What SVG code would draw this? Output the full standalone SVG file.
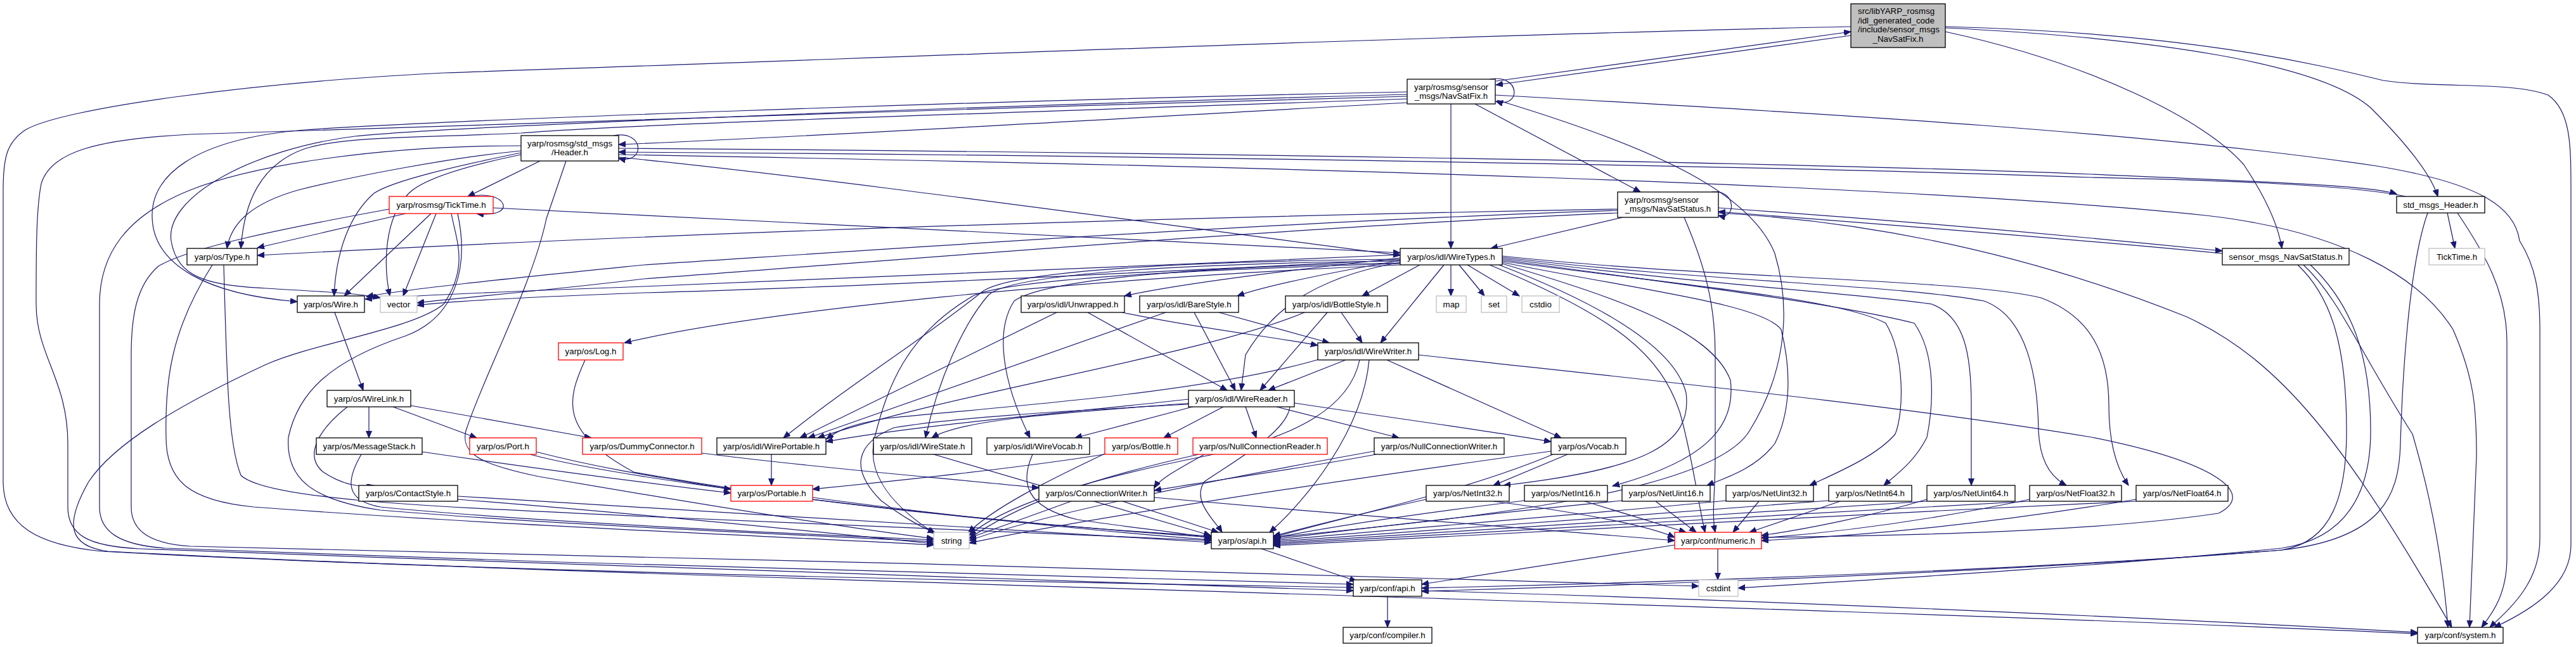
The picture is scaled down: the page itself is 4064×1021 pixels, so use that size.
<svg xmlns="http://www.w3.org/2000/svg" width="4064" height="1021" viewBox="0 0 4064 1021">
<style>
.n rect{fill:#fff;stroke:#000;stroke-width:1.3}
.n.red rect{stroke:#f00}
.n.ext rect{stroke:#bfbfbf}
#n_root rect{fill:#bfbfbf}
text{font-family:"Liberation Sans",Arial,Helvetica,sans-serif;font-size:13.33px;fill:#000}
.c{text-anchor:middle}
#edges path{fill:none;stroke:#191970;stroke-width:1.2;marker-end:url(#a)}
</style>
<defs>
<marker id="a" markerUnits="userSpaceOnUse" markerWidth="12" markerHeight="10" refX="11" refY="4.5" orient="auto"><path d="M0,0 L11,4.5 L0,9 z" fill="#191970" stroke="#191970" stroke-width="1"/></marker>
</defs>
<rect width="4064" height="1021" fill="#fff"/>
<g id="edges">
<path d="M2920,56 L2360,134"/>
<path d="M2360,128 L2920,50"/>
<path d="M2350,125 C2400,116 2400,172 2360,160"/>
<path d="M3069,42 C3450,52 3650,100 3760,127 C3850,140 3960,128 4020,150 C4056,175 4056,230 4056,300 L4056,860 C4056,920 4000,960 3935,990"/>
<path d="M3069,44 C3400,60 3660,100 3740,170 C3800,230 3835,275 3846,310"/>
<path d="M3069,50 C3300,100 3480,190 3540,260 C3580,320 3595,360 3600,392"/>
<path d="M2920,42 C2300,55 1300,95 700,115 C400,130 100,170 40,205 C10,225 5,250 5,300 L5,760 C5,830 60,860 160,870 C700,900 1600,918 2135,927"/>
<path d="M2289,164 L2289,392"/>
<path d="M2327,164 L2588,303"/>
<path d="M2359,150 C2900,180 3400,210 3750,262 C3920,290 3968,330 3975,380 C4000,420 4007,460 4007,520 L4007,850 C4007,920 3960,960 3928,990"/>
<path d="M2220,162 C1800,185 1300,215 976,228"/>
<path d="M2220,145 C1500,160 700,190 480,205 C300,220 240,280 240,340 C240,420 330,465 469,476"/>
<path d="M2220,149 C1500,168 700,200 560,215 C400,235 260,310 270,380 C280,440 330,450 420,455 C500,460 560,462 600,470"/>
<path d="M2220,152 C1500,172 600,200 300,212 C150,220 80,240 65,290 C57,330 57,400 57,480 C57,560 107,600 107,700 L107,800 C107,845 140,862 220,866 C900,892 1700,914 2135,932"/>
<path d="M2220,156 C1600,178 1000,195 822,210 C650,218 540,215 480,235 C410,260 385,320 380,392"/>
<path d="M2362,158 C2600,230 2760,300 2800,400 C2830,500 2810,600 2760,680 C2700,780 2300,820 2009,848"/>
<path d="M968,214 C1018,205 1018,260 976,250"/>
<path d="M976,234 C1800,240 2800,255 3300,275 C3600,288 3740,293 3781,306"/>
<path d="M3795,310 C3740,298 3600,286 3300,280 C2800,262 1800,245 976,240"/>
<path d="M976,248 C1300,280 1800,350 2209,403"/>
<path d="M976,244 C2000,262 3000,290 3480,340 C3700,365 3820,440 3870,520 C3905,600 3907,650 3907,720 L3896,990"/>
<path d="M852,254 L738,310"/>
<path d="M822,238 C700,250 550,280 470,300 C400,320 365,350 358,392"/>
<path d="M822,241 C720,262 620,285 590,305 C550,340 530,400 527,467"/>
<path d="M822,244 C720,265 665,285 645,305 C605,345 605,420 615,467"/>
<path d="M893,254 L862,345 C840,450 760,600 735,680 C725,720 770,735 850,752 C1100,795 1350,835 1473,850"/>
<path d="M742,310 C800,298 818,345 752,337"/>
<path d="M640,337 L406,391"/>
<path d="M680,337 L543,467"/>
<path d="M688,337 L636,467"/>
<path d="M778,328 C1200,345 1700,375 2209,399"/>
<path d="M712,337 C720,380 740,420 700,480 C650,520 500,540 420,575 C280,640 180,700 140,760 C100,830 110,862 170,870 C900,910 2700,950 3814,1000"/>
<path d="M722,337 C740,420 720,500 640,530 C520,570 470,620 455,690 C450,760 500,790 600,805 C900,830 1300,845 1473,855"/>
<path d="M614,330 C450,360 300,390 250,420 C215,450 207,500 207,560 L207,800 C207,840 240,858 300,862 C1000,880 2000,900 2680,925"/>
<path d="M822,230 C600,230 400,260 300,300 C200,340 157,400 157,480 L157,800 C157,840 190,860 260,865 C900,890 1700,912 2135,922"/>
<path d="M2700,303 C2740,298 2740,348 2711,340"/>
<path d="M2711,328 C3000,348 3300,375 3506,396"/>
<path d="M3506,400 C3300,380 3000,356 2711,334"/>
<path d="M2560,343 L2352,392"/>
<path d="M2552,330 C2000,340 1200,360 406,403"/>
<path d="M2552,332 C2000,350 1300,400 1016,418 C800,440 650,455 578,468"/>
<path d="M2552,336 C2000,360 1300,420 1016,440 C850,460 720,470 658,478"/>
<path d="M2209,402 C1800,420 1300,440 1016,452 C800,460 650,466 576,472"/>
<path d="M2209,410 C1800,430 1300,455 1016,462 C800,470 700,476 658,482"/>
<path d="M2657,343 C2690,420 2706,480 2706,560 L2706,720 C2706,780 2700,810 2706,840"/>
<path d="M2711,336 C3000,352 3250,420 3450,500 C3600,570 3700,700 3868,990"/>
<path d="M3861,336 L3873,392"/>
<path d="M3830,336 C3800,420 3790,600 3787,700 C3785,780 3760,850 3600,868 C3200,900 2600,920 2243,928"/>
<path d="M3877,336 C3920,400 3955,460 3955,540 L3955,880 C3955,940 3930,970 3915,990"/>
<path d="M3634,418 C3690,470 3720,550 3806,685 C3840,800 3855,900 3862,990"/>
<path d="M3625,418 C3680,470 3702,550 3702,680 C3702,780 3680,855 3600,868 C3200,900 2700,920 2243,933"/>
<path d="M3645,418 C3710,480 3740,560 3740,680 C3740,780 3700,850 3600,865 C3300,895 2950,915 2742,928"/>
<path d="M2240,418 L2149,467"/>
<path d="M2278,418 L2178,541"/>
<path d="M2289,418 L2289,467"/>
<path d="M2302,418 L2342,467"/>
<path d="M2315,418 L2397,467"/>
<path d="M2209,407 C2000,430 1850,450 1774,467"/>
<path d="M2209,411 C2100,430 2000,450 1952,467"/>
<path d="M2209,414 C2060,440 2000,500 1965,560 L1958,616"/>
<path d="M2209,418 C1700,440 1200,490 985,541"/>
<path d="M2209,409 C1900,412 1600,425 1550,460 C1450,540 1350,600 1236,691"/>
<path d="M2209,412 C1900,415 1600,430 1560,465 C1520,510 1480,600 1460,691"/>
<path d="M2209,415 C1900,420 1650,440 1600,475 C1570,520 1580,600 1625,691"/>
<path d="M2209,416 C1900,425 1570,440 1530,470 C1430,530 1400,610 1380,690 C1365,750 1410,800 1475,842"/>
<path d="M2370,404 C2700,440 3100,440 3220,470 C3300,500 3327,560 3327,640 C3327,700 3340,740 3358,766"/>
<path d="M2370,406 C2700,445 3000,450 3130,475 C3200,500 3215,600 3216,680 C3218,720 3230,750 3260,766"/>
<path d="M2370,408 C2700,450 2950,465 3048,480 C3100,500 3110,560 3110,640 L3110,766"/>
<path d="M2370,410 C2700,455 2900,480 3020,510 C3055,560 3050,640 3040,690 C3020,730 2990,750 2972,766"/>
<path d="M2370,412 C2650,450 2900,470 2975,510 C3005,560 3004,650 2990,685 C2960,720 2900,745 2855,766"/>
<path d="M2370,414 C2600,460 2780,480 2810,520 C2830,600 2820,660 2800,700 C2770,740 2720,755 2693,766"/>
<path d="M2370,416 C2550,470 2700,520 2730,600 C2740,680 2680,730 2544,767"/>
<path d="M2365,418 C2500,470 2640,540 2660,620 C2670,700 2600,740 2372,766"/>
<path d="M2350,418 C2550,500 2620,560 2650,650 C2670,720 2680,800 2690,840"/>
<path d="M2123,568 L2001,616"/>
<path d="M2081,567 C1900,620 1600,640 1400,660 C1340,670 1320,680 1304,693"/>
<path d="M2188,568 L2463,691"/>
<path d="M2145,568 C2130,640 2050,690 1900,720 C1700,760 1580,800 1529,845"/>
<path d="M2160,568 C2150,680 2060,790 2003,840"/>
<path d="M2238,560 C2600,600 3000,640 3300,690 C3500,730 3560,780 3500,810 C3300,840 3000,845 2779,848"/>
<path d="M1667,493 L1262,691"/>
<path d="M1716,493 L1936,616"/>
<path d="M1770,493 C1900,520 2000,530 2079,545"/>
<path d="M1839,493 L1275,691"/>
<path d="M1884,493 L1949,616"/>
<path d="M1923,493 L2097,541"/>
<path d="M2058,493 C1900,560 1500,620 1290,691"/>
<path d="M2094,493 L1988,616"/>
<path d="M2116,493 L2149,541"/>
<path d="M1875,630 C1700,650 1450,670 1303,697"/>
<path d="M1880,636 C1700,650 1520,660 1470,691"/>
<path d="M1885,641 L1696,691"/>
<path d="M1930,642 L1836,691"/>
<path d="M1965,642 L1982,691"/>
<path d="M2014,642 L2207,691"/>
<path d="M2042,636 C2200,660 2350,680 2447,697"/>
<path d="M1875,638 C1650,650 1500,660 1410,675 C1350,700 1340,740 1390,790 C1430,820 1460,835 1475,840"/>
<path d="M2035,642 C2030,680 1960,720 1900,760 C1880,790 1915,820 1928,840"/>
<path d="M528,493 L573,616"/>
<path d="M582,642 L582,691"/>
<path d="M548,642 C500,680 480,720 510,745 C540,765 570,770 590,766"/>
<path d="M620,642 L752,691"/>
<path d="M648,640 L933,691"/>
<path d="M1217,717 L1217,766"/>
<path d="M1473,717 L1910,845"/>
<path d="M1629,717 C1610,760 1615,800 1700,820 C1800,835 1880,842 1911,850"/>
<path d="M1742,717 C1600,740 1400,760 1282,772"/>
<path d="M1745,715 C1650,760 1570,800 1528,840"/>
<path d="M1891,717 C1700,760 1600,800 1529,850"/>
<path d="M1900,717 C1860,740 1830,755 1821,770"/>
<path d="M2171,717 C2050,740 1900,760 1821,774"/>
<path d="M2168,712 C1900,760 1650,810 1529,853"/>
<path d="M2447,712 C2100,760 1700,820 1529,857"/>
<path d="M2473,717 L2356,766"/>
<path d="M2450,717 C2300,780 2100,820 2009,848"/>
<path d="M1690,791 L1529,849"/>
<path d="M1771,791 L1922,840"/>
<path d="M1282,785 C1500,815 1750,840 1911,852"/>
<path d="M1107,715 C1300,740 1500,755 1639,770"/>
<path d="M846,713 C950,740 1050,755 1153,772"/>
<path d="M666,713 C850,740 1000,760 1153,778"/>
<path d="M836,717 C1000,760 1500,820 1911,848"/>
<path d="M570,717 C545,760 545,790 600,800 C800,820 1200,840 1473,852"/>
<path d="M722,783 C1000,800 1500,830 1911,856"/>
<path d="M722,788 C1000,810 1300,840 1473,858"/>
<path d="M923,568 C895,630 880,680 1000,745 C1300,800 1700,835 1911,846"/>
<path d="M353,418 C358,600 360,700 380,750 C420,790 700,800 1016,815 C1400,830 1700,845 1911,853"/>
<path d="M335,418 C270,520 260,600 262,690 C262,760 300,790 400,800 C800,830 1200,845 1473,860"/>
<path d="M2356,791 C2500,810 2600,830 2642,848"/>
<path d="M2500,791 L2660,840"/>
<path d="M2612,791 L2676,840"/>
<path d="M2775,791 L2734,840"/>
<path d="M2903,791 L2760,840"/>
<path d="M3040,788 C2950,815 2850,835 2779,845"/>
<path d="M3202,788 C3050,820 2900,840 2779,849"/>
<path d="M3370,788 C3150,825 2950,845 2779,853"/>
<path d="M2250,788 C2150,810 2050,835 2009,846"/>
<path d="M2405,790 C2200,815 2080,835 2009,849"/>
<path d="M2559,790 C2300,815 2100,840 2009,851"/>
<path d="M2723,790 C2500,812 2200,835 2009,853"/>
<path d="M2885,790 C2600,812 2250,838 2009,855"/>
<path d="M3040,791 C2700,812 2300,840 2009,857"/>
<path d="M3202,791 C2800,812 2350,842 2009,859"/>
<path d="M3370,791 C2900,812 2400,844 2009,861"/>
<path d="M2710,866 L2710,915"/>
<path d="M2642,860 L2243,922"/>
<path d="M1990,866 L2140,917"/>
<path d="M2189,941 L2189,990"/>
<path d="M2243,932 C2800,948 3400,975 3814,998"/>
<path d="M1821,785 C2100,810 2400,835 2642,853"/>
</g>
<g id="n_root" class="n"><rect x="2920" y="6" width="149" height="69"/><text x="2931" y="22">src/libYARP_rosmsg</text><text x="2931" y="37">/idl_generated_code</text><text x="2931" y="51">/include/sensor_msgs</text><text class="c" x="2994.5" y="66">_NavSatFix.h</text></g>
<g id="n_nsf" class="n"><rect x="2220" y="125" width="139" height="39"/><text x="2231" y="142">yarp/rosmsg/sensor</text><text class="c" x="2289.5" y="156">_msgs/NavSatFix.h</text></g>
<g id="n_hdr" class="n"><rect x="822" y="214" width="154" height="40"/><text x="832" y="231">yarp/rosmsg/std_msgs</text><text class="c" x="899" y="245">/Header.h</text></g>
<g id="n_nss" class="n"><rect x="2552" y="303" width="159" height="40"/><text x="2563" y="320">yarp/rosmsg/sensor</text><text class="c" x="2631.5" y="334">_msgs/NavSatStatus.h</text></g>
<g id="n_tick" class="n red"><rect x="614" y="310" width="164" height="27"/><text class="c" x="696" y="328">yarp/rosmsg/TickTime.h</text></g>
<g id="n_smh" class="n"><rect x="3781" y="310" width="139" height="26"/><text class="c" x="3850.5" y="328">std_msgs_Header.h</text></g>
<g id="n_type" class="n"><rect x="295" y="392" width="111" height="26"/><text class="c" x="350.5" y="410">yarp/os/Type.h</text></g>
<g id="n_wt" class="n"><rect x="2209" y="392" width="161" height="26"/><text class="c" x="2289.5" y="410">yarp/os/idl/WireTypes.h</text></g>
<g id="n_smnss" class="n"><rect x="3506" y="392" width="200" height="26"/><text class="c" x="3606" y="410">sensor_msgs_NavSatStatus.h</text></g>
<g id="n_tt" class="n ext"><rect x="3832" y="392" width="88" height="26"/><text class="c" x="3876" y="410">TickTime.h</text></g>
<g id="n_wire" class="n"><rect x="469" y="467" width="106" height="26"/><text class="c" x="522" y="485">yarp/os/Wire.h</text></g>
<g id="n_vector" class="n ext"><rect x="600" y="467" width="58" height="26"/><text class="c" x="629" y="485">vector</text></g>
<g id="n_unw" class="n"><rect x="1611" y="467" width="163" height="26"/><text class="c" x="1692.5" y="485">yarp/os/idl/Unwrapped.h</text></g>
<g id="n_bare" class="n"><rect x="1798" y="467" width="156" height="26"/><text class="c" x="1876" y="485">yarp/os/idl/BareStyle.h</text></g>
<g id="n_bs" class="n"><rect x="2028" y="467" width="161" height="26"/><text class="c" x="2108.5" y="485">yarp/os/idl/BottleStyle.h</text></g>
<g id="n_map" class="n ext"><rect x="2266" y="467" width="47" height="26"/><text class="c" x="2289.5" y="485">map</text></g>
<g id="n_set" class="n ext"><rect x="2337" y="467" width="40" height="26"/><text class="c" x="2357" y="485">set</text></g>
<g id="n_cstdio" class="n ext"><rect x="2401" y="467" width="59" height="26"/><text class="c" x="2430.5" y="485">cstdio</text></g>
<g id="n_log" class="n red"><rect x="881" y="541" width="102" height="27"/><text class="c" x="932" y="559">yarp/os/Log.h</text></g>
<g id="n_ww" class="n"><rect x="2079" y="541" width="159" height="27"/><text class="c" x="2158.5" y="559">yarp/os/idl/WireWriter.h</text></g>
<g id="n_wl" class="n"><rect x="516" y="616" width="132" height="26"/><text class="c" x="582" y="634">yarp/os/WireLink.h</text></g>
<g id="n_wr" class="n"><rect x="1875" y="616" width="167" height="26"/><text class="c" x="1958.5" y="634">yarp/os/idl/WireReader.h</text></g>
<g id="n_ms" class="n"><rect x="499" y="691" width="167" height="26"/><text class="c" x="582.5" y="709">yarp/os/MessageStack.h</text></g>
<g id="n_port" class="n red"><rect x="741" y="691" width="105" height="26"/><text class="c" x="793.5" y="709">yarp/os/Port.h</text></g>
<g id="n_dc" class="n red"><rect x="919" y="691" width="188" height="26"/><text class="c" x="1013" y="709">yarp/os/DummyConnector.h</text></g>
<g id="n_wp" class="n"><rect x="1131" y="691" width="172" height="26"/><text class="c" x="1217" y="709">yarp/os/idl/WirePortable.h</text></g>
<g id="n_ws" class="n"><rect x="1378" y="691" width="155" height="26"/><text class="c" x="1455.5" y="709">yarp/os/idl/WireState.h</text></g>
<g id="n_wv" class="n"><rect x="1557" y="691" width="162" height="26"/><text class="c" x="1638" y="709">yarp/os/idl/WireVocab.h</text></g>
<g id="n_bottle" class="n red"><rect x="1743" y="691" width="115" height="26"/><text class="c" x="1800.5" y="709">yarp/os/Bottle.h</text></g>
<g id="n_ncr" class="n red"><rect x="1882" y="691" width="212" height="26"/><text class="c" x="1988" y="709">yarp/os/NullConnectionReader.h</text></g>
<g id="n_ncw" class="n"><rect x="2168" y="691" width="205" height="26"/><text class="c" x="2270.5" y="709">yarp/os/NullConnectionWriter.h</text></g>
<g id="n_vocab" class="n"><rect x="2447" y="691" width="118" height="26"/><text class="c" x="2506" y="709">yarp/os/Vocab.h</text></g>
<g id="n_cs" class="n"><rect x="566" y="766" width="156" height="25"/><text class="c" x="644" y="783">yarp/os/ContactStyle.h</text></g>
<g id="n_portable" class="n red"><rect x="1153" y="766" width="129" height="25"/><text class="c" x="1217.5" y="783">yarp/os/Portable.h</text></g>
<g id="n_cw" class="n"><rect x="1639" y="766" width="182" height="25"/><text class="c" x="1730" y="783">yarp/os/ConnectionWriter.h</text></g>
<g id="n_ni32" class="n"><rect x="2250" y="766" width="131" height="25"/><text class="c" x="2315.5" y="783">yarp/os/NetInt32.h</text></g>
<g id="n_ni16" class="n"><rect x="2405" y="766" width="131" height="25"/><text class="c" x="2470.5" y="783">yarp/os/NetInt16.h</text></g>
<g id="n_nu16" class="n"><rect x="2559" y="766" width="139" height="25"/><text class="c" x="2628.5" y="783">yarp/os/NetUint16.h</text></g>
<g id="n_nu32" class="n"><rect x="2723" y="766" width="138" height="25"/><text class="c" x="2792" y="783">yarp/os/NetUint32.h</text></g>
<g id="n_ni64" class="n"><rect x="2885" y="766" width="131" height="25"/><text class="c" x="2950.5" y="783">yarp/os/NetInt64.h</text></g>
<g id="n_nu64" class="n"><rect x="3040" y="766" width="139" height="25"/><text class="c" x="3109.5" y="783">yarp/os/NetUint64.h</text></g>
<g id="n_nf32" class="n"><rect x="3202" y="766" width="145" height="25"/><text class="c" x="3274.5" y="783">yarp/os/NetFloat32.h</text></g>
<g id="n_nf64" class="n"><rect x="3370" y="766" width="145" height="25"/><text class="c" x="3442.5" y="783">yarp/os/NetFloat64.h</text></g>
<g id="n_string" class="n ext"><rect x="1473" y="840" width="56" height="26"/><text class="c" x="1501" y="858">string</text></g>
<g id="n_osapi" class="n"><rect x="1911" y="840" width="98" height="26"/><text class="c" x="1960" y="858">yarp/os/api.h</text></g>
<g id="n_numeric" class="n red"><rect x="2642" y="840" width="137" height="26"/><text class="c" x="2710.5" y="858">yarp/conf/numeric.h</text></g>
<g id="n_confapi" class="n"><rect x="2135" y="915" width="108" height="26"/><text class="c" x="2189" y="933">yarp/conf/api.h</text></g>
<g id="n_cstdint" class="n ext"><rect x="2680" y="915" width="62" height="26"/><text class="c" x="2711" y="933">cstdint</text></g>
<g id="n_compiler" class="n"><rect x="2119" y="990" width="140" height="25"/><text class="c" x="2189" y="1007">yarp/conf/compiler.h</text></g>
<g id="n_system" class="n"><rect x="3814" y="990" width="135" height="25"/><text class="c" x="3881.5" y="1007">yarp/conf/system.h</text></g>
</svg>
